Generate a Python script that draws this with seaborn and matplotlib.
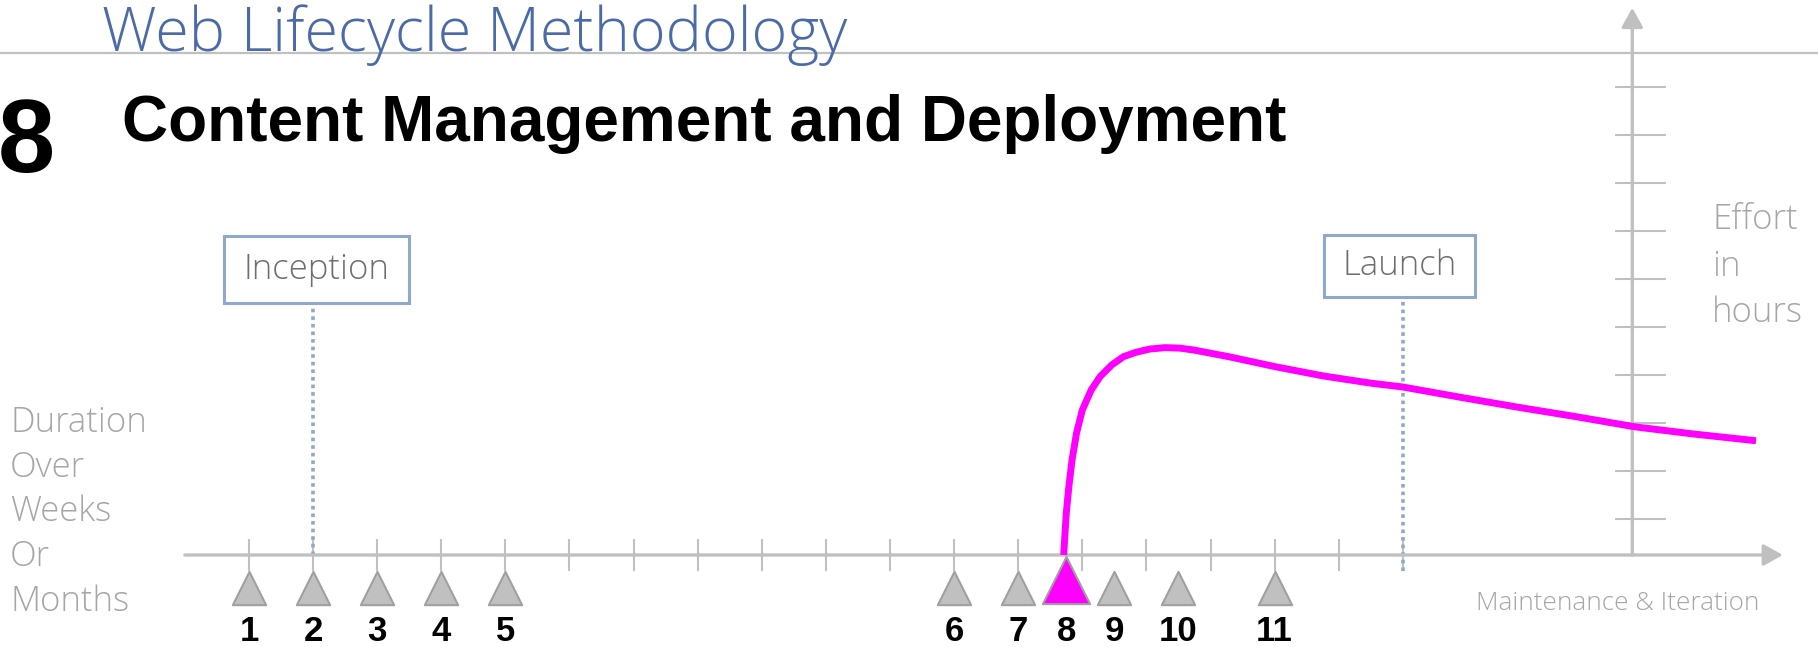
import numpy as np
import pandas as pd
import seaborn as sns
from matplotlib import pyplot as plt
from matplotlib.patches import Rectangle

W, H, DPI = 1818, 647, 100

# stages along the timeline (weeks) and their numbers
stage_x = [1, 2, 3, 4, 5, 12, 13, 13.75, 14.5, 15.5, 17]
stage_labels = ["1", "2", "3", "4", "5", "6", "7", "8", "9", "10", "11"]
current_stage = "8"

# timeline ticks
week_ticks = [1, 2, 3, 4, 5, 6, 7, 8, 9, 10, 11, 12, 13, 14, 15, 16, 17, 18, 19]
effort_ticks = [0.75, 1.75, 2.75, 3.75, 4.75, 5.75, 6.75, 7.75, 8.75, 9.75]

# effort curve for this stage
effort_x = [13.71, 13.73, 13.75, 13.79, 13.84, 13.91, 14.0, 14.14, 14.28, 14.46,
            14.64, 14.83, 15.05, 15.29, 15.52, 15.74, 16.29, 17.02, 17.76, 18.5,
            19.0, 19.88, 20.79, 21.71, 22.62, 23.54, 24.51]
effort_y = [0.0, 0.45, 0.87, 1.42, 1.98, 2.54, 3.02, 3.44, 3.72, 3.96,
            4.13, 4.22, 4.29, 4.32, 4.31, 4.27, 4.13, 3.92, 3.73, 3.58,
            3.5, 3.29, 3.08, 2.88, 2.67, 2.52, 2.38]

milestones = ["Inception", "Launch"]
milestone_x = [2, 19]

AXIS = "#c0c0c0"
GREY_TXT = "#a6a6a6"
BLUE = "#4a6aa8"
BOX = "#8fa8cc"

sns.set_style("white")
plt.rcParams["font.family"] = ["Open Sans", "DejaVu Sans"]
plt.rcParams["text.color"] = "black"

fig = plt.figure(figsize=(W / DPI, H / DPI), dpi=DPI)
ax = fig.add_axes([0, 0, 1, 1])
ax.set_xlim(-2.884, 25.477)
ax.set_ylim(-1.917, 11.5625)
ax.axis("off")


def fx(px):
    return px / W


def fy(py):
    return 1 - py / H


# header
fig.add_artist(plt.Line2D([0, 1], [fy(53), fy(53)], color=AXIS, lw=1.6, zorder=1))
fig.text(fx(102), fy(51), "Web Lifecycle Methodology", color=BLUE, fontsize=44,
         fontweight="light", va="baseline", ha="left", zorder=3)
fig.text(fx(-2), fy(172), "8", fontsize=74, fontweight="bold",
         family=["Liberation Sans", "DejaVu Sans"], va="baseline", ha="left")
fig.text(fx(122), fy(141), "Content Management and Deployment", fontsize=46,
         fontweight="bold", family=["Liberation Sans", "DejaVu Sans"],
         va="baseline", ha="left")

# axes with arrows
ax.annotate("", xy=(24.93, 0), xytext=(0, 0),
            arrowprops=dict(arrowstyle="-|>,head_length=0.9,head_width=0.5",
                            color=AXIS, lw=2.4, shrinkA=0, shrinkB=0,
                            mutation_scale=13))
ax.annotate("", xy=(22.58, 11.4), xytext=(22.58, 0),
            arrowprops=dict(arrowstyle="-|>,head_length=0.9,head_width=0.5",
                            color=AXIS, lw=2.4, shrinkA=0, shrinkB=0,
                            mutation_scale=13))
ax.vlines(week_ticks, -0.34, 0.34, color=AXIS, lw=1.5)
ax.hlines(effort_ticks, 22.58 - 0.27, 22.58 + 0.52, color=AXIS, lw=1.5)

# milestones
boxes = {"Inception": (0.61, 5.25, 2.89, 1.40), "Launch": (17.77, 5.375, 2.36, 1.295)}
for name, mx in zip(milestones, milestone_x):
    x0, y0, bw, bh = boxes[name]
    ax.add_patch(Rectangle((x0, y0), bw, bh, fill=False, ec=BOX, lw=2.2, zorder=3))
    ax.text(x0 + bw / 2, y0 + bh / 2, name, ha="center", va="center",
            fontsize=25, fontweight="light", color="#6e6e6e")
    bottom = 0 if name == "Inception" else -0.34
    ax.vlines(mx, bottom, y0, color=BOX, lw=2.6, linestyles=(0, (1, 1.1)), zorder=2)

# effort curve
curve = pd.DataFrame({"x": effort_x, "y": effort_y})
sns.lineplot(data=curve, x="x", y="y", sort=False, color="#ff00ff", lw=5,
             ax=ax, zorder=4, solid_capstyle="butt")

# stage markers
stages = pd.DataFrame({"x": stage_x, "label": stage_labels})
others = stages[stages["label"] != current_stage].assign(y=-0.68)
cur = stages[stages["label"] == current_stage].assign(y=-0.52)
sns.scatterplot(data=others, x="x", y="y", marker="^", s=24 ** 2, color="#c0c0c0",
                edgecolor="#a0a0a0", linewidth=1.5, ax=ax, zorder=5, legend=False)
sns.scatterplot(data=cur, x="x", y="y", marker="^", s=34 ** 2, color="#ff00ff",
                edgecolor="#a0a0a0", linewidth=1.5, ax=ax, zorder=6, legend=False)
for _, row in stages.iterrows():
    ax.text(row["x"], -1.6, row["label"], ha="center", va="center", fontsize=25,
            fontweight="bold", family=["Liberation Sans Narrow", "Liberation Sans"])

# axis captions
for i, line in enumerate(["Duration", "Over", "Weeks", "Or", "Months"]):
    fig.text(fx(10), fy(423 + i * 44.6), line, fontsize=25, fontweight="light",
             color=GREY_TXT, va="center", ha="left")
for i, line in enumerate(["Effort", "in", "hours"]):
    fig.text(fx(1712), fy(220 + i * 46.5), line, fontsize=25, fontweight="light",
             color=GREY_TXT, va="center", ha="left")
fig.text(fx(1476), fy(604), "Maintenance & Iteration", fontsize=18.8,
         fontweight="light", color=GREY_TXT, va="center", ha="left")

fig.savefig("out.png", dpi=DPI)
